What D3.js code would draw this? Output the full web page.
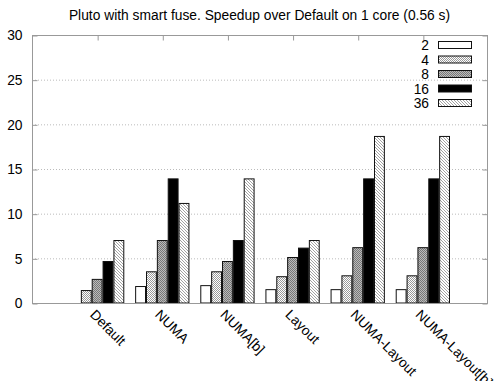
<!DOCTYPE html>
<html>
<head>
<meta charset="utf-8">
<script src="https://cdn.jsdelivr.net/npm/d3@7"></script>
<style>
  html, body { margin: 0; padding: 0; background: #fff; }
  svg { display: block; font-family: "Liberation Sans", Arial, Helvetica, sans-serif; }
</style>
</head>
<body>
<svg id="chart" width="495" height="381"></svg>
<script>
// Benchmark configurations along the x axis
const categories = ["Default", "NUMA", "NUMA[b]", "Layout", "NUMA-Layout", "NUMA-Layout[b]"];
// Core counts, one bar series per count
const coreCounts = ["2", "4", "8", "16", "36"];
// Speedup per configuration, one array per core count (null = not measured)
const speedup2  = [null, 1.9, 2.0, 1.55, 1.55, 1.55];
const speedup4  = [1.45, 3.55, 3.55, 3.0, 3.1, 3.1];
const speedup8  = [2.7, 7.05, 4.7, 5.15, 6.25, 6.25];
const speedup16 = [4.7, 13.95, 7.05, 6.2, 13.95, 13.95];
const speedup36 = [7.05, 11.2, 13.95, 7.05, 18.7, 18.7];
const yTicks = [0, 5, 10, 15, 20, 25, 30];
const title = "Pluto with smart fuse. Speedup over Default on 1 core (0.56 s)";

const series = [speedup2, speedup4, speedup8, speedup16, speedup36];

const svg = d3.select("#chart");
const plotLeft = 32, plotRight = 488, plotTop = 35, plotBottom = 303;
const fontFamily = "'Liberation Sans', Arial, Helvetica, sans-serif";
const fontSize = 13.8;

const x = d3.scaleLinear().domain([-1, categories.length]).range([plotLeft, plotRight]);
const y = d3.scaleLinear().domain([0, 30]).range([plotBottom, plotTop]);

// Fill patterns for each series
const defs = svg.append("defs");
const p4 = defs.append("pattern").attr("id", "pat4").attr("patternUnits", "userSpaceOnUse")
  .attr("width", 2).attr("height", 2);
p4.append("rect").attr("width", 2).attr("height", 2).attr("fill", "#fff");
p4.append("rect").attr("x", 0).attr("y", 0).attr("width", 1).attr("height", 1).attr("fill", "#999");
p4.append("rect").attr("x", 1).attr("y", 1).attr("width", 1).attr("height", 1).attr("fill", "#999");

const p8 = defs.append("pattern").attr("id", "pat8").attr("patternUnits", "userSpaceOnUse")
  .attr("width", 2).attr("height", 2);
p8.append("rect").attr("width", 2).attr("height", 2).attr("fill", "#bbb");
p8.append("rect").attr("x", 0).attr("y", 0).attr("width", 1).attr("height", 1).attr("fill", "#777");
p8.append("rect").attr("x", 1).attr("y", 1).attr("width", 1).attr("height", 1).attr("fill", "#777");

const p36 = defs.append("pattern").attr("id", "pat36").attr("patternUnits", "userSpaceOnUse")
  .attr("width", 3).attr("height", 3);
p36.append("rect").attr("width", 3).attr("height", 3).attr("fill", "#fff");
p36.append("path").attr("d", "M-1,-1 L4,4 M-1,2 L1,4 M2,-1 L4,1")
  .attr("stroke", "#999").attr("stroke-width", 0.9);

const fills = ["#ffffff", "url(#pat4)", "url(#pat8)", "#000000", "url(#pat36)"];

// Title
svg.append("text").attr("x", 259.5).attr("y", 20).attr("text-anchor", "middle")
  .attr("font-size", fontSize).attr("fill", "#000").text(title);

// Horizontal grid
svg.append("g").selectAll("line").data(yTicks.filter(t => t > 0 && t < 30)).join("line")
  .attr("x1", plotLeft).attr("x2", plotRight).attr("y1", d => y(d) + 0.5).attr("y2", d => y(d) + 0.5)
  .attr("stroke", "#bbb").attr("stroke-width", 1).attr("stroke-dasharray", "1,2");

// Bars
const bw = 1 / (coreCounts.length + 1);
series.forEach((vals, j) => {
  svg.append("g").selectAll("rect")
    .data(vals.map((v, i) => ({ v, i })).filter(d => d.v !== null))
    .join("rect")
    .attr("x", d => x(d.i + (j - 2) * bw - bw / 2) + 0.5)
    .attr("width", d => x(bw) - x(0) - 1)
    .attr("y", d => y(d.v) + 0.5)
    .attr("height", d => y(0) - y(d.v) - 0.5)
    .attr("fill", fills[j])
    .attr("stroke", "#111").attr("stroke-width", 1);
});

// Border and ticks
const axisColor = "#999";
svg.append("rect").attr("x", plotLeft + 0.5).attr("y", plotTop + 0.5)
  .attr("width", plotRight - plotLeft - 1).attr("height", plotBottom - plotTop)
  .attr("fill", "none").attr("stroke", axisColor).attr("stroke-width", 1);

const yAxis = d3.axisLeft(y).tickValues(yTicks).tickSize(-5).tickPadding(10);
const gy = svg.append("g").attr("transform", `translate(${plotLeft + 0.5},0.5)`).call(yAxis);
gy.select(".domain").remove();
gy.selectAll("line").attr("stroke", axisColor);
gy.selectAll("text").attr("font-size", fontSize).attr("fill", "#000").attr("font-family", fontFamily);

const yAxisR = d3.axisRight(y).tickValues(yTicks).tickSize(-5).tickFormat("");
const gyr = svg.append("g").attr("transform", `translate(${plotRight - 0.5},0.5)`).call(yAxisR);
gyr.select(".domain").remove();
gyr.selectAll("line").attr("stroke", axisColor);

const idx = categories.map((c, i) => i);
const xAxisTop = d3.axisTop(x).tickValues(idx).tickSize(-5).tickFormat("");
const gxt = svg.append("g").attr("transform", `translate(0.5,${plotTop + 0.5})`).call(xAxisTop);
gxt.select(".domain").remove();
gxt.selectAll("line").attr("stroke", axisColor);

const xAxis = d3.axisBottom(x).tickValues(idx).tickSize(-5).tickFormat(i => categories[i]);
const gx = svg.append("g").attr("transform", `translate(0.5,${plotBottom + 0.5})`).call(xAxis);
gx.select(".domain").remove();
gx.selectAll("line").attr("stroke", axisColor);
gx.selectAll("text")
  .attr("font-size", fontSize).attr("fill", "#000").attr("font-family", fontFamily)
  .attr("text-anchor", "start")
  .attr("y", 0).attr("dy", "0")
  .attr("transform", "translate(-9,12) rotate(45)");

// Legend
const legend = svg.append("g");
coreCounts.forEach((c, j) => {
  const ly = 45 + j * 14.5;
  legend.append("text").attr("x", 429).attr("y", ly + 5).attr("text-anchor", "end")
    .attr("font-size", fontSize).attr("fill", "#000").text(c);
  legend.append("rect").attr("x", 438.5).attr("y", ly - 3.5).attr("width", 33).attr("height", 7)
    .attr("fill", fills[j]).attr("stroke", "#111").attr("stroke-width", 1);
});
</script>
</body>
</html>
